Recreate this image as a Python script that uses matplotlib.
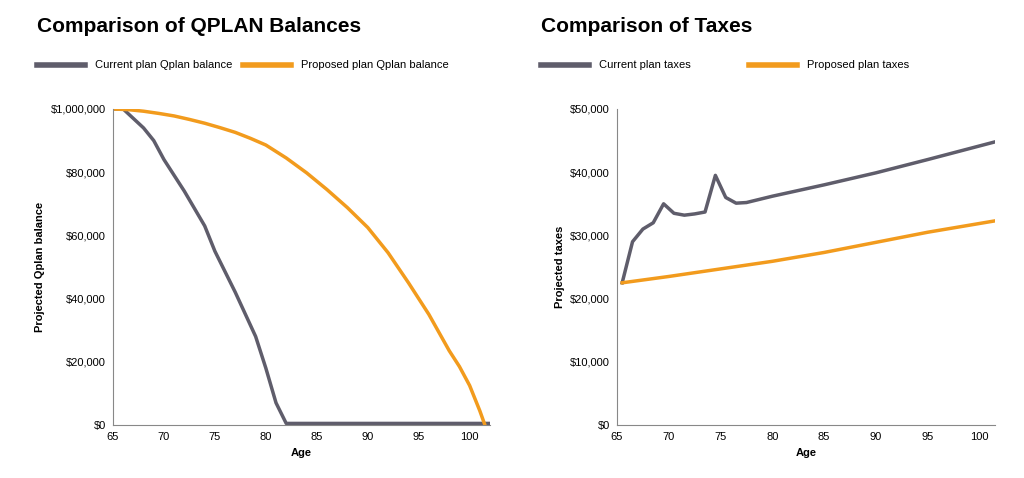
import matplotlib
matplotlib.use("Agg")
import matplotlib.pyplot as plt
from matplotlib.ticker import FuncFormatter

plt.rcParams['font.family'] = ['Liberation Sans Narrow', 'Liberation Sans', 'DejaVu Sans']

# Left chart data
q_cur_age = [65, 66, 67, 68, 69, 70, 72, 74, 75, 77, 79, 80, 81, 82, 90, 102]
q_cur_val = [100000, 100000, 97000, 94000, 90000, 84000, 74000, 63000, 55000, 42000, 28000, 18000, 7000, 500, 500, 500]
q_prop_age = [65, 66.5, 68, 69.5, 71, 72.5, 74, 75.5, 77, 78.5, 80, 82, 84, 86, 88, 90, 92, 94, 96, 98, 99, 100, 101, 101.5]
q_prop_val = [100000, 99800, 99300, 98600, 97800, 96700, 95500, 94100, 92600, 90700, 88600, 84500, 79800, 74500, 68800, 62500, 54500, 45000, 35000, 23500, 18500, 12500, 4500, 0]
q_yticks = [0, 20000, 40000, 60000, 80000, 100000]
q_ylabels = ['$0', '$20,000', '$40,000', '$60,000', '$80,000', '$1,000,000']

# Right chart data
t_cur_age = [65.5, 66.5, 67.5, 68.5, 69.5, 70.5, 71.5, 72.5, 73.5, 74.5, 75.5, 76.5, 77.5, 80, 85, 90, 95, 101.5]
t_cur_val = [22500, 29000, 31000, 32000, 35000, 33500, 33200, 33400, 33700, 39500, 36000, 35100, 35200, 36200, 38000, 39900, 42000, 44800]
t_prop_age = [65.5, 70, 75, 80, 85, 90, 95, 101.5]
t_prop_val = [22500, 23500, 24700, 25900, 27300, 28900, 30500, 32300]

GRAY = '#5f5d6b'
ORANGE = '#f29b1d'

fig = plt.figure(figsize=(10.24, 4.78), dpi=100)
ax1 = fig.add_axes([113/1024, 1-425/478, (490-113)/1024, (425-109)/478])
ax2 = fig.add_axes([617/1024, 1-425/478, (995-617)/1024, (425-109)/478])

def style(ax):
    for s in ['top', 'right']:
        ax.spines[s].set_visible(False)
    for s in ['left', 'bottom']:
        ax.spines[s].set_color('#888888')
    ax.tick_params(labelsize=8, length=0, pad=5)

ax1.plot(q_cur_age, q_cur_val, color=GRAY, lw=2.5, solid_joinstyle='round')
ax1.plot(q_prop_age, q_prop_val, color=ORANGE, lw=2.5, solid_joinstyle='round')
ax1.set_xlim(65, 102)
ax1.set_ylim(0, 100000)
ax1.set_yticks(q_yticks)
ax1.set_yticklabels(q_ylabels)
ax1.set_xticks([65, 70, 75, 80, 85, 90, 95, 100])
ax1.set_xlabel('Age', fontsize=8, fontweight='bold')
ax1.set_ylabel('Projected Qplan balance', fontsize=8, fontweight='bold')
style(ax1)

ax2.plot(t_cur_age, t_cur_val, color=GRAY, lw=2.5, solid_joinstyle='round')
ax2.plot(t_prop_age, t_prop_val, color=ORANGE, lw=2.5, solid_joinstyle='round')
ax2.set_xlim(65, 101.5)
ax2.set_ylim(0, 50000)
ax2.set_yticks(range(0, 50001, 10000))
ax2.yaxis.set_major_formatter(FuncFormatter(lambda v, p: f'${int(v):,}'))
ax2.set_xticks([65, 70, 75, 80, 85, 90, 95, 100])
ax2.set_xlabel('Age', fontsize=8, fontweight='bold')
ax2.set_ylabel('Projected taxes', fontsize=8, fontweight='bold')
style(ax2)

fig.text(37/1024, 1-27/478, 'Comparison of QPLAN Balances', fontsize=15, fontweight='bold', va='center')
fig.text(541/1024, 1-27/478, 'Comparison of Taxes', fontsize=15, fontweight='bold', va='center')

def leg(x0, y, text, color):
    fig.add_artist(plt.Line2D([x0/1024, (x0+48)/1024], [1-y/478]*2, color=color, lw=4))
    fig.text((x0+58)/1024, 1-y/478, text, fontsize=8, va='center')

leg(37, 65, 'Current plan Qplan balance', GRAY)
leg(243, 65, 'Proposed plan Qplan balance', ORANGE)
leg(541, 65, 'Current plan taxes', GRAY)
leg(749, 65, 'Proposed plan taxes', ORANGE)

fig.savefig('out.png', dpi=100)
